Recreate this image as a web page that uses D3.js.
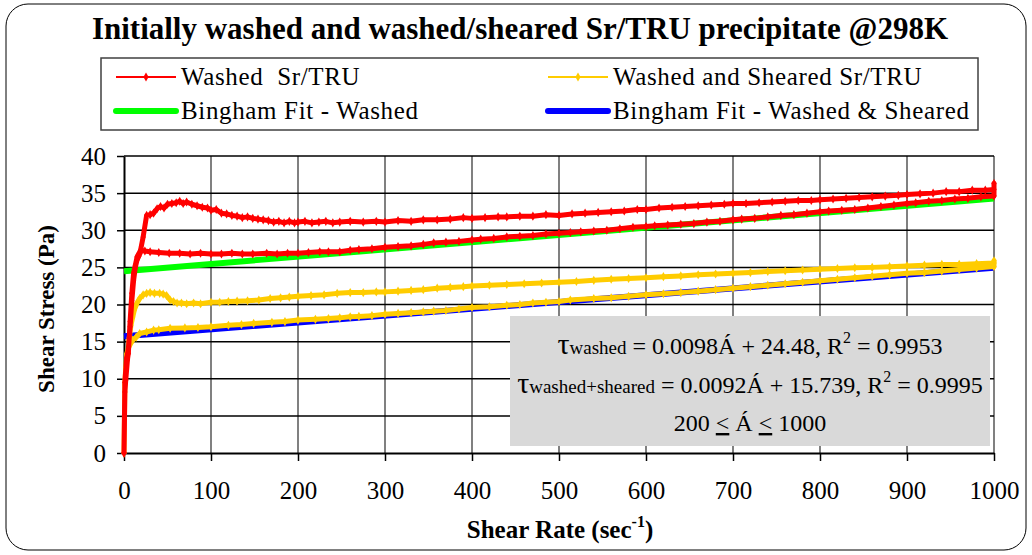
<!DOCTYPE html>
<html>
<head>
<meta charset="utf-8">
<script src="https://cdn.jsdelivr.net/npm/d3@7"></script>
<style>
  body { margin: 0; background: #fff; }
  text { font-family: "Liberation Serif", "Times New Roman", serif; }
</style>
</head>
<body>
<svg id="chart" width="1032" height="555"></svg>
<script>
// [shear rate, shear stress]
var washedUp = [[0,0],[1,8.2],[2,9.8],[4,12.6],[5,13.4],[7,17.7],[9,21.5],[11,24.2],[13,25.3],[15,26.4],[19,27.3],[22,29.1],[26,32.0],[30,32.1],[34,32.3],[38,32.9],[42,33.2],[46,33.0],[50,33.5],[55,33.6],[60,33.7],[64,33.9],[68,33.6],[72,33.8],[78,33.5],[84,33.3],[90,33.1],[96,33.0],[100,32.7],[106,32.8],[112,32.3],[118,32.2],[124,32.0],[130,31.9],[136,31.7],[142,31.8],[148,31.6],[154,31.5],[160,31.4],[166,31.3],[172,31.1],[178,31.2],[184,31.0],[190,31.2],[196,31.0],[200,31.1],[208,31.2],[216,31.0],[224,31.1],[232,31.2],[240,31.0],[248,31.1],[260,31.2],[275,31.1],[290,31.2],[300,31.1],[315,31.3],[330,31.2],[344,31.4],[360,31.4],[375,31.5],[390,31.7],[400,31.6],[415,31.7],[430,31.8],[440,31.8],[455,31.9],[470,31.9],[485,32.1],[500,32.0],[515,32.2],[530,32.3],[545,32.4],[560,32.5],[575,32.6],[590,32.8],[600,32.8],[615,33.0],[630,33.1],[645,33.2],[660,33.3],[675,33.4],[690,33.5],[700,33.6],[715,33.6],[730,33.7],[745,33.8],[760,33.9],[775,34.0],[790,34.0],[800,34.1],[815,34.2],[830,34.3],[845,34.4],[860,34.5],[875,34.6],[890,34.7],[900,34.8],[915,34.9],[930,35.0],[945,35.2],[960,35.2],[975,35.4],[990,35.4],[1000,35.5],[1000,36.3]];
var washedDown = [[1000,34.6],[985,34.5],[970,34.3],[955,34.2],[940,34.0],[925,33.9],[910,33.7],[900,33.6],[885,33.4],[870,33.2],[855,33.0],[840,32.8],[825,32.7],[810,32.6],[800,32.5],[785,32.3],[770,32.1],[755,32.0],[740,31.8],[725,31.6],[710,31.5],[700,31.4],[685,31.2],[670,31.1],[655,30.9],[640,30.8],[625,30.7],[610,30.6],[600,30.5],[585,30.4],[570,30.2],[555,30.0],[540,29.9],[525,29.8],[513,29.7],[500,29.6],[485,29.5],[470,29.3],[455,29.2],[440,29.1],[425,28.9],[410,28.8],[400,28.7],[385,28.5],[370,28.4],[356,28.3],[344,28.1],[330,27.9],[315,27.8],[300,27.7],[285,27.5],[270,27.4],[260,27.3],[248,27.1],[235,27.1],[225,27.1],[212,27.0],[200,26.9],[188,26.9],[176,26.8],[164,26.9],[148,26.8],[136,26.8],[124,26.9],[112,26.8],[100,26.8],[88,26.9],[76,26.8],[64,26.9],[52,26.9],[40,27.0],[30,27.1],[24,27.2],[20,27.3],[17,26.5],[15,26.0],[13,25.0],[11,23.2],[9,20.5],[7,17.0],[5,14.0],[3,12.8],[1,9.5],[0,0]];
var shearedUp = [[0,0],[1,9.5],[2,11.5],[4,13.2],[6,15.5],[8,17.2],[10,18.3],[12,19.3],[15,20.2],[18,20.8],[22,21.3],[26,21.5],[30,21.6],[35,21.5],[41,21.5],[45,21.4],[49,21.2],[53,20.6],[57,20.4],[61,20.2],[66,20.2],[72,20.1],[80,20.2],[88,20.1],[100,20.3],[110,20.3],[120,20.4],[130,20.45],[142,20.5],[155,20.6],[168,20.8],[180,20.9],[190,21.0],[200,21.1],[215,21.2],[230,21.3],[245,21.5],[260,21.6],[275,21.6],[290,21.7],[300,21.7],[315,21.8],[330,21.9],[344,22.0],[360,22.2],[375,22.3],[390,22.4],[400,22.5],[420,22.6],[440,22.7],[460,22.8],[480,22.9],[500,23.0],[520,23.1],[540,23.25],[560,23.4],[580,23.5],[600,23.6],[620,23.75],[640,23.85],[660,24.0],[680,24.1],[700,24.2],[720,24.3],[740,24.45],[760,24.55],[780,24.65],[800,24.75],[820,24.85],[840,24.95],[860,25.0],[880,25.1],[900,25.2],[920,25.3],[940,25.4],[960,25.4],[980,25.5],[1000,25.6],[1000,25.9]];
var shearedDown = [[1000,25.1],[980,24.9],[960,24.7],[940,24.5],[920,24.3],[900,24.2],[880,24.0],[860,23.8],[840,23.6],[820,23.4],[800,23.2],[780,23.0],[760,22.8],[740,22.6],[720,22.4],[700,22.2],[680,22.0],[660,21.8],[640,21.6],[620,21.45],[600,21.3],[580,21.1],[560,20.9],[540,20.8],[513,20.6],[500,20.4],[485,20.3],[470,20.2],[455,20.0],[440,19.9],[420,19.7],[400,19.6],[385,19.4],[370,19.2],[356,19.1],[344,19.0],[330,18.9],[315,18.8],[300,18.7],[285,18.5],[270,18.4],[260,18.35],[248,18.2],[235,18.1],[220,18.0],[200,17.9],[185,17.7],[170,17.6],[149,17.45],[135,17.3],[120,17.2],[100,17.0],[85,16.9],[70,16.85],[53,16.8],[40,16.6],[34,16.55],[26,16.3],[18,16.1],[14,15.6],[10,15.2],[7,14.6],[5,14.1],[3,13.3],[1,9.2],[0,0]];

// Bingham fits: slope, intercept
var fitWashed = [0.0098, 24.48];
var fitSheared = [0.0092, 15.739];
var fitRange = [0, 1000];

var xTicks = [0,100,200,300,400,500,600,700,800,900,1000];
var yTicks = [0,5,10,15,20,25,30,35,40];

var margin = {left: 124, right: 38, top: 156, bottom: 102};

var svg = d3.select("#chart");
var width = +svg.attr("width");
var height = +svg.attr("height");

// outer rounded frame
svg.append("rect")
  .attr("x", 6).attr("y", 4)
  .attr("width", 1020).attr("height", 546)
  .attr("rx", 22).attr("ry", 22)
  .attr("fill", "#fff")
  .attr("stroke", "#000")
  .attr("stroke-width", 1);

svg.append("text")
  .attr("x", 520).attr("y", 39)
  .attr("text-anchor", "middle")
  .attr("font-size", 31)
  .attr("font-weight", "bold")
  .text("Initially washed and washed/sheared Sr/TRU precipitate @298K");

var x = d3.scaleLinear()
  .domain([0, 1000])
  .range([margin.left, width - margin.right]);
var y = d3.scaleLinear()
  .domain([0, 40])
  .range([height - margin.bottom, margin.top]);

// gridlines
svg.append("g")
  .selectAll("line")
  .data(xTicks.slice(1))
  .enter().append("line")
  .attr("x1", d => x(d)).attr("x2", d => x(d))
  .attr("y1", y(40)).attr("y2", y(0))
  .attr("stroke", "#808080")
  .attr("stroke-width", 2);
svg.append("g")
  .selectAll("line")
  .data(yTicks.slice(1))
  .enter().append("line")
  .attr("x1", x(0)).attr("x2", x(1000))
  .attr("y1", d => y(d)).attr("y2", d => y(d))
  .attr("stroke", "#000")
  .attr("stroke-width", 1.5);

// axes
var xAxis = svg.append("g")
  .attr("transform", `translate(0, ${y(0)})`)
  .call(d3.axisBottom(x).tickValues(xTicks).tickFormat(d3.format("d"))
    .tickSize(8).tickPadding(20).tickSizeOuter(0));
var yAxis = svg.append("g")
  .attr("transform", `translate(${x(0)}, 0)`)
  .call(d3.axisLeft(y).tickValues(yTicks).tickSize(7).tickPadding(11).tickSizeOuter(0));
[xAxis, yAxis].forEach(function(a) {
  a.select(".domain").attr("stroke", "#000").attr("stroke-width", 2);
  a.selectAll(".tick line").attr("stroke", "#000").attr("stroke-width", 1.5);
  a.selectAll(".tick text")
    .attr("font-family", "Liberation Serif")
    .attr("font-size", 25)
    .attr("fill", "#000");
});

// Bingham fit lines
function drawFit(coef, color) {
  var line = d3.line().x(d => x(d)).y(d => y(coef[0] * d + coef[1]));
  svg.append("path")
    .datum(fitRange)
    .attr("fill", "none")
    .attr("stroke", color)
    .attr("stroke-width", 6)
    .attr("d", line);
}
drawFit(fitWashed, "#00ff00");
drawFit(fitSheared, "#0000ff");

// measured curves
var diamond = d3.symbol().type(d3.symbolDiamond).size(24);
function drawSeries(data, color) {
  var line = d3.line().x(d => x(d[0])).y(d => y(d[1]));
  svg.append("path")
    .datum(data)
    .attr("fill", "none")
    .attr("stroke", color)
    .attr("stroke-width", 5)
    .attr("stroke-linejoin", "round")
    .attr("d", line);
  svg.append("g")
    .selectAll("path")
    .data(data)
    .enter().append("path")
    .attr("transform", d => `translate(${x(d[0])},${y(d[1])})`)
    .attr("d", diamond)
    .attr("fill", color);
}
drawSeries(shearedUp.concat(shearedDown), "#ffcc00");
drawSeries(washedUp.concat(washedDown), "#ff0000");

// equation box
svg.append("rect")
  .attr("x", 510).attr("y", 316)
  .attr("width", 480).attr("height", 130)
  .attr("fill", "#d9d9d9");

function eqLine(yy, sub, rest) {
  var t = svg.append("text")
    .attr("x", 750).attr("y", yy)
    .attr("text-anchor", "middle")
    .attr("font-size", 24);
  t.append("tspan").attr("font-size", 30).text("τ");
  t.append("tspan").attr("font-size", 19).text(sub);
  t.append("tspan").text(rest[0]);
  t.append("tspan").attr("font-size", 16).attr("dy", -11).text("2");
  t.append("tspan").attr("dy", 11).text(rest[1]);
}
eqLine(354, "washed", [" = 0.0098Á + 24.48, R", " = 0.9953"]);
eqLine(393, "washed+sheared", [" = 0.0092Á + 15.739, R", " = 0.9995"]);
var t3 = svg.append("text")
  .attr("x", 750).attr("y", 431)
  .attr("text-anchor", "middle")
  .attr("font-size", 24);
t3.append("tspan").text("200 ");
t3.append("tspan").attr("text-decoration", "underline").text("<");
t3.append("tspan").text(" Á ");
t3.append("tspan").attr("text-decoration", "underline").text("<");
t3.append("tspan").text(" 1000");

// axis titles
svg.append("text")
  .attr("transform", "translate(54, 309) rotate(-90)")
  .attr("text-anchor", "middle")
  .attr("font-size", 23)
  .attr("font-weight", "bold")
  .text("Shear Stress (Pa)");
var xt = svg.append("text")
  .attr("x", 560).attr("y", 538)
  .attr("text-anchor", "middle")
  .attr("font-size", 25)
  .attr("font-weight", "bold");
xt.append("tspan").text("Shear Rate (sec");
xt.append("tspan").attr("font-size", 16).attr("dy", -11).text("-1");
xt.append("tspan").attr("dy", 11).text(")");

// legend
svg.append("rect")
  .attr("x", 101).attr("y", 58)
  .attr("width", 877).attr("height", 72)
  .attr("fill", "#fff")
  .attr("stroke", "#404040")
  .attr("stroke-width", 1.5);
var legendItems = [
  {label: "Washed  Sr/TRU", color: "#ff0000", fit: false, lx: 116, ly: 77},
  {label: "Washed and Sheared Sr/TRU", color: "#ffcc00", fit: false, lx: 548, ly: 77},
  {label: "Bingham Fit - Washed", color: "#00ff00", fit: true, lx: 116, ly: 111},
  {label: "Bingham Fit - Washed & Sheared", color: "#0000ff", fit: true, lx: 548, ly: 111}
];
var lg = svg.append("g").selectAll("g").data(legendItems).enter().append("g");
lg.append("line")
  .attr("x1", d => d.lx).attr("x2", d => d.lx + 60)
  .attr("y1", d => d.ly).attr("y2", d => d.ly)
  .attr("stroke", d => d.color)
  .attr("stroke-width", d => d.fit ? 6 : 2)
  .attr("stroke-linecap", d => d.fit ? "round" : "butt");
lg.filter(d => !d.fit).append("path")
  .attr("transform", d => `translate(${d.lx + 30},${d.ly})`)
  .attr("d", diamond)
  .attr("fill", d => d.color);
lg.append("text")
  .attr("x", d => d.lx + 65).attr("y", d => d.ly + 8)
  .attr("font-size", 25)
  .attr("letter-spacing", 0.65)
  .style("white-space", "pre")
  .text(d => d.label);
</script>
</body>
</html>
